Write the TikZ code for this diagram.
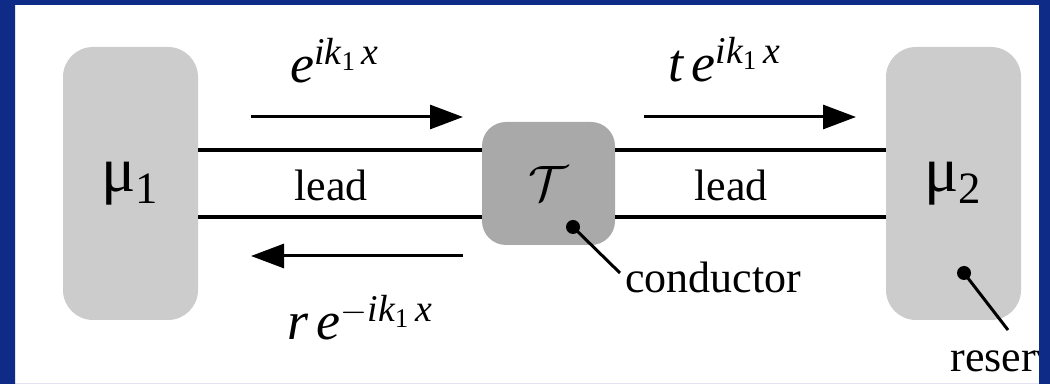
\documentclass[tikz,border=0pt]{standalone}
\usepackage{amsmath}
\usepackage{fontspec}
\setmainfont{Liberation Serif}
\usetikzlibrary{positioning,calc,arrows.meta}
\definecolor{frame}   {HTML}{0F2B88}
\definecolor{resgray} {HTML}{CCCCCC}
\definecolor{condgray}{HTML}{A9A9A9}
\definecolor{ink}     {HTML}{000000}
\newcommand{\wv}[1]{\textit{#1}}
\tikzset{
  % --- nodes
  res/.style  = {rounded corners=15pt, fill=resgray, inner sep=0pt,
                 minimum width=67.5pt, minimum height=136.5pt,
                 font=\fontsize{32}{36}\selectfont},
  cond/.style = {rounded corners=12pt, fill=condgray, inner sep=0pt,
                 minimum width=66.5pt, minimum height=61.5pt,
                 font=\fontsize{26}{30}\selectfont},
  lbl/.style  = {font=\fontsize{22}{26}\selectfont, inner sep=0pt},
  wave/.style = {font=\fontsize{27}{32}\selectfont, inner sep=0pt, anchor=base west},
  dot/.style  = {circle, fill=ink, inner sep=0pt, minimum size=7pt},
  % --- edges
  lead/.style = {line width=1.6pt, draw=ink},
  e/.style    = {-{Triangle[length=16.5pt,width=12pt]}, line width=1.5pt, draw=ink},
  pin/.style  = {line width=1.5pt, draw=ink},
}
\begin{document}
\begin{tikzpicture}[x=0.5pt,y=-0.5pt]
  \useasboundingbox (0,0) rectangle (1050,384);
  \node[res]  (mu1)  at (130.5,183.5) {μ$_{\text{1}}$};
  \node[res]  (mu2)  at (953.5,183.5) {μ$_{\text{2}}$};
  \node[cond] (cond) at (548.5,183.5) {$\mathcal{T}$};
  % leads
  \draw[lead] ($(mu1.east)+(0,-33.5)$) -- ($(cond.west)+(0,-33.5)$);
  \draw[lead] ($(mu1.east)+(0,33.5)$)  -- ($(cond.west)+(0,33.5)$);
  \draw[lead] ($(cond.east)+(0,-33.5)$) -- ($(mu2.west)+(0,-33.5)$);
  \draw[lead] ($(cond.east)+(0,33.5)$)  -- ($(mu2.west)+(0,33.5)$);
  \node[lbl] (l1) at (331,185) {lead};
  \node[lbl] (l2) at (731,185) {lead};
  % waves
  \coordinate (in1) at (251,117);  \coordinate (in2) at (463,117);
  \coordinate (tr1) at (644,117);  \coordinate (tr2) at (856,117);
  \coordinate (rf1) at (463,256);  \coordinate (rf2) at (251,256);
  \draw[e] (in1) -- (in2);
  \draw[e] (tr1) -- (tr2);
  \draw[e] (rf1) -- (rf2);
  \node[wave] (inc)   at (290,83)  {$\wv{e}^{\wv{ik}_{\text{1}}\,\wv{x}}$};
  \node[wave] (trans) at (668,82)  {$\wv{t}\,\wv{e}^{\wv{ik}_{\text{1}}\,\wv{x}}$};
  \node[wave] (refl)  at (287,340) {$\wv{r}\,\wv{e}^{-\wv{ik}_{\text{1}}\,\wv{x}}$};
  % pointers
  \node[dot] (cdot) at (573,227) {};
  \coordinate (cpin) at (620,273);
  \draw[pin] (cdot.center) -- (cpin);
  \node[lbl, anchor=base west] (ctext) at (625,293) {conductor};
  \node[dot] (rdot) at (964,273) {};
  \coordinate (rpin) at (1008,330);
  \draw[pin] (rdot.center) -- (rpin);
  \node[lbl, anchor=base west] (rtext) at (950,372) {reservoir};
  % frame
  \fill[frame, even odd rule] (0,0) rectangle (1050,384) (15,5) rectangle (1039,390);
\end{tikzpicture}
\end{document}
